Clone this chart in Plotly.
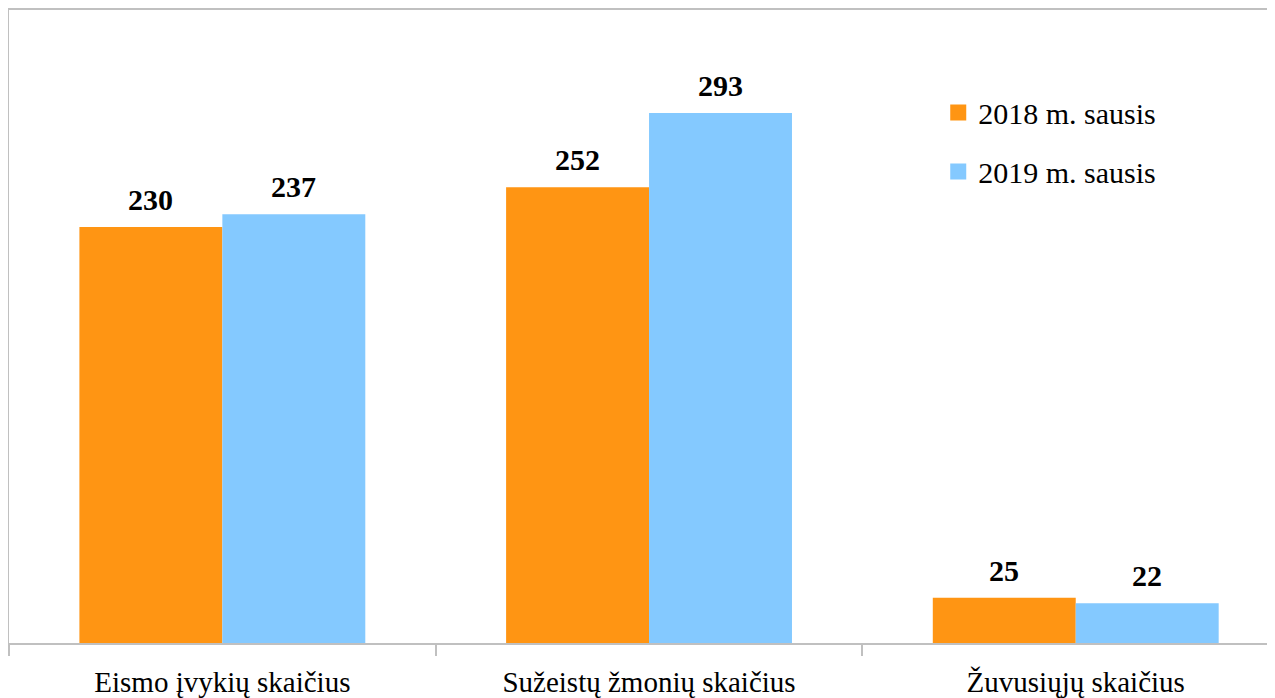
import plotly.graph_objects as go

categories = ["Eismo įvykių skaičius", "Sužeistų žmonių skaičius", "Žuvusiųjų skaičius"]
series_names = ["2018 m. sausis", "2019 m. sausis"]
values_2018 = [230, 252, 25]
values_2019 = [237, 293, 22]
colors = ["#FF9513", "#84C9FF"]

FONT = "Liberation Serif, Times New Roman, serif"
BARGAP = 0.33
bar_w = (1 - BARGAP) / 2

fig = go.Figure()
all_vals = [values_2018, values_2019]
for i, (name, vals, col) in enumerate(zip(series_names, all_vals, colors)):
    fig.add_trace(go.Bar(x=categories, y=vals, name=name, marker_color=col,
                         marker_line_width=0, showlegend=False, hoverinfo="skip"))
    # legend proxy
    fig.add_trace(go.Scatter(x=[None], y=[None], mode="markers", name=name,
                             legendgroup=name,
                             marker=dict(symbol="square", size=19, color=col)))

annotations = []
for i, vals in enumerate(all_vals):
    for j, v in enumerate(vals):
        annotations.append(dict(x=j + (i - 0.5) * bar_w, y=v, xref="x", yref="y",
                                text=f"<b>{v}</b>", showarrow=False,
                                yanchor="bottom", yshift=9,
                                font=dict(family=FONT, size=30, color="black")))

fig.update_layout(
    width=1267, height=690,
    margin=dict(l=1, r=0, t=0, b=53),
    paper_bgcolor="white", plot_bgcolor="white",
    barmode="group", bargap=BARGAP, bargroupgap=0,
    font=dict(family=FONT, size=30, color="black"),
    annotations=annotations,
    legend=dict(x=0.734, y=0.879, xanchor="left", yanchor="top",
                font=dict(family=FONT, size=30, color="black"),
                tracegroupgap=17, bgcolor="rgba(0,0,0,0)"),
    xaxis=dict(range=[-0.5, 2.467], showline=True, linecolor="#C0C0C0", linewidth=1.5,
               mirror=True, ticks="outside", tickson="boundaries", ticklen=11,
               tickcolor="#C0C0C0", tickwidth=1.5, showgrid=False, zeroline=False,
               ticklabelstandoff=12,
               tickfont=dict(family=FONT, size=29, color="black")),
    yaxis=dict(range=[0, 350], showline=True, linecolor="#C0C0C0", linewidth=1.5,
               showticklabels=False, ticks="", showgrid=False, zeroline=False),
)

fig.write_html("out.html")
